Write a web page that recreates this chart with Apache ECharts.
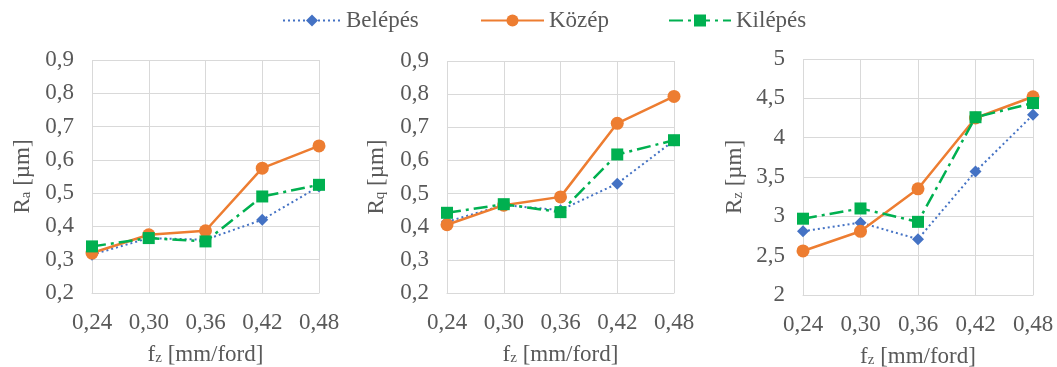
<!DOCTYPE html>
<html>
<head>
<meta charset="utf-8">
<script src="https://cdn.jsdelivr.net/npm/echarts@6/dist/echarts.min.js"></script>
<style>
  html, body { margin: 0; padding: 0; background: #fff; }
  #chart { width: 1057px; height: 367px; }
</style>
</head>
<body>
<div id="chart"></div>
<script>
// feed values (x categories)
let fzLabels = ['0,24', '0,30', '0,36', '0,42', '0,48'];
let seriesNames = ['Belépés', 'Közép', 'Kilépés'];

// Ra [µm]
let raBelepes = [0.315, 0.365, 0.36, 0.42, 0.52];
let raKozep = [0.32, 0.375, 0.387, 0.575, 0.642];
let raKilepes = [0.34, 0.365, 0.355, 0.49, 0.525];

// Rq [µm]
let rqBelepes = [0.415, 0.465, 0.45, 0.53, 0.66];
let rqKozep = [0.406, 0.465, 0.49, 0.712, 0.793];
let rqKilepes = [0.442, 0.468, 0.444, 0.618, 0.661];

// Rz [µm]
let rzBelepes = [2.81, 2.92, 2.71, 3.57, 4.29];
let rzKozep = [2.56, 2.81, 3.35, 4.25, 4.52];
let rzKilepes = [2.97, 3.10, 2.93, 4.26, 4.44];

// y axis scales [min, max, interval]
let raScale = [0.2, 0.9, 0.1];
let rqScale = [0.2, 0.9, 0.1];
let rzScale = [2, 5, 0.5];

let fontFam = '"Liberation Serif", "Times New Roman", serif';
let txtColor = '#595959';
let gridColor = '#d9d9d9';

let colBlue = '#4472c4';
let colOrange = '#ed7d31';
let colGreen = '#00b050';

function commaFmt(v) {
  'use strict';
  return String(+v.toFixed(2)).replace('.', ',');
}

let nameRich = {
  n: { fontFamily: fontFam, fontSize: 23, color: txtColor },
  s: { fontFamily: fontFam, fontSize: 15, color: txtColor, verticalAlign: 'bottom', lineHeight: 14 }
};

function makeX(idx) {
  return {
    type: 'category',
    gridIndex: idx,
    data: fzLabels,
    boundaryGap: false,
    axisTick: { show: false },
    axisLine: { show: true, lineStyle: { color: gridColor, width: 1 } },
    splitLine: { show: true, lineStyle: { color: gridColor, width: 1 } },
    axisLabel: { margin: 18, fontFamily: fontFam, fontSize: 23, color: txtColor },
    name: '{n|f}{s|z}{n| [mm/ford]}',
    nameLocation: 'middle',
    nameGap: 50,
    nameTextStyle: { rich: nameRich }
  };
}

function makeY(idx, scale, sub, gap) {
  return {
    type: 'value',
    gridIndex: idx,
    min: scale[0],
    max: scale[1],
    interval: scale[2],
    axisLine: { show: false },
    axisTick: { show: false },
    splitLine: { lineStyle: { color: gridColor, width: 1 } },
    axisLabel: { margin: 18, fontFamily: fontFam, fontSize: 23, color: txtColor, formatter: commaFmt },
    name: '{n|R}{s|' + sub + '}{n| [µm]}',
    nameLocation: 'middle',
    nameGap: gap,
    nameRotate: 90,
    nameTextStyle: { rich: nameRich }
  };
}

function belepes(idx, data) {
  return {
    name: seriesNames[0], type: 'line', xAxisIndex: idx, yAxisIndex: idx, data: data,
    symbol: 'diamond', symbolSize: 12,
    lineStyle: { color: colBlue, width: 2, type: [2, 3] },
    itemStyle: { color: colBlue },
    z: 2
  };
}

function kozep(idx, data) {
  return {
    name: seriesNames[1], type: 'line', xAxisIndex: idx, yAxisIndex: idx, data: data,
    symbol: 'circle', symbolSize: 13,
    lineStyle: { color: colOrange, width: 2.5, type: 'solid' },
    itemStyle: { color: colOrange },
    z: 3
  };
}

function kilepes(idx, data) {
  return {
    name: seriesNames[2], type: 'line', xAxisIndex: idx, yAxisIndex: idx, data: data,
    symbol: 'rect', symbolSize: 12,
    lineStyle: { color: colGreen, width: 2.5, type: [14, 5, 3, 5] },
    itemStyle: { color: colGreen },
    z: 4
  };
}

function legendItem(name, left, width) {
  return {
    data: [name],
    top: 4,
    left: left,
    itemWidth: width,
    itemHeight: 15,
    textStyle: { fontFamily: fontFam, fontSize: 23, color: txtColor }
  };
}

let chart = echarts.init(document.getElementById('chart'));
let option = {
  animation: false,
  backgroundColor: '#fff',
  legend: [
    legendItem(seriesNames[0], 277, 58),
    legendItem(seriesNames[1], 475, 63),
    legendItem(seriesNames[2], 663, 62)
  ],
  grid: [
    { left: 92, width: 227, top: 60, height: 233, outerBoundsMode: 'none' },
    { left: 447, width: 227, top: 61, height: 232, outerBoundsMode: 'none' },
    { left: 803, width: 230, top: 59, height: 236, outerBoundsMode: 'none' }
  ],
  xAxis: [makeX(0), makeX(1), makeX(2)],
  yAxis: [
    makeY(0, raScale, 'a', 58),
    makeY(1, rqScale, 'q', 59),
    makeY(2, rzScale, 'z', 57)
  ],
  series: [
    belepes(0, raBelepes), kozep(0, raKozep), kilepes(0, raKilepes),
    belepes(1, rqBelepes), kozep(1, rqKozep), kilepes(1, rqKilepes),
    belepes(2, rzBelepes), kozep(2, rzKozep), kilepes(2, rzKilepes)
  ]
};
chart.setOption(option);
</script>
</body>
</html>
